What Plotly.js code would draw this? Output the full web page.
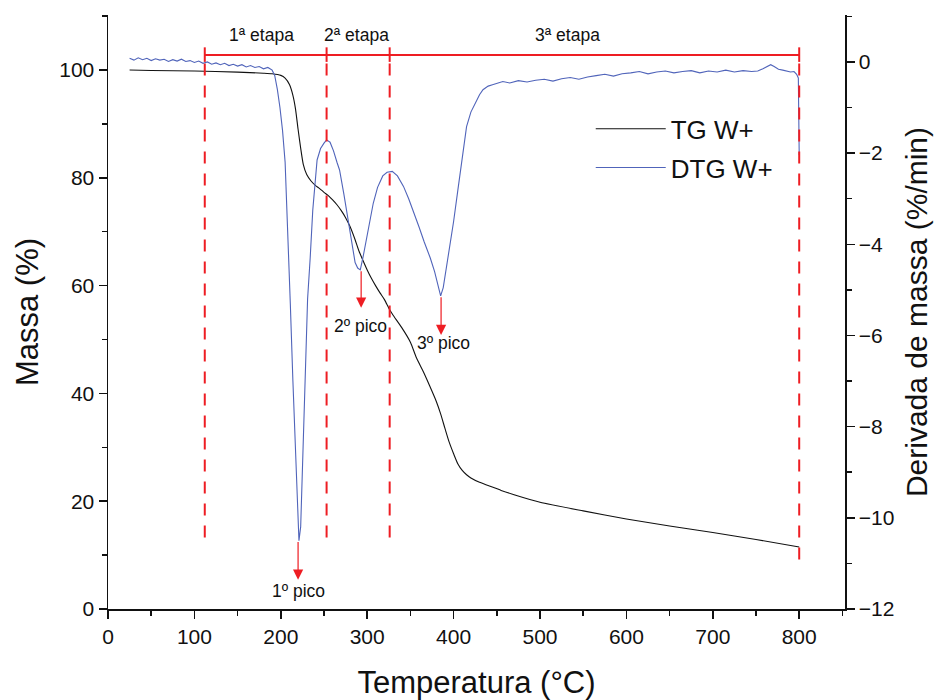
<!DOCTYPE html>
<html>
<head>
<meta charset="utf-8">
<script src="https://cdn.plot.ly/plotly-3.0.1.min.js"></script>
<style>html,body{margin:0;padding:0;background:#fff;}#chart{width:939px;height:700px;}</style>
</head>
<body>
<div id="chart"></div>
<script>
// TG curve (mass %)
var tgTemp = [25,50,100,150,180,190,200,205,210,214,217,220,223,226,230,235,240,245,250,255,
  260,265,270,275,280,286,290,295,300,305,310,315,320,326,330,340,350,357,365,372,
  380,385,390,395,400,405,410,415,420,430,440,455,470,500,550,600,650,700,750,800];
var tgMass = [100,99.9,99.8,99.6,99.4,99.3,99.0,98.5,97.3,95.3,92.8,89.0,85.5,82.5,80.6,79.4,78.6,78.0,77.3,76.7,
  75.9,75.0,73.9,72.6,71.0,68.5,66.6,64.7,62.9,61.3,59.9,58.6,57.4,55.5,54.5,52.2,49.5,46.6,44.0,41.5,
  38.5,36.2,33.5,30.9,28.8,26.9,25.7,24.9,24.3,23.5,22.9,22.0,21.2,19.8,18.2,16.7,15.4,14.2,12.9,11.5];

// DTG curve (%/min)
var dtgTemp = [25,30,35,40,45,50,55,60,65,70,
  75,80,85,90,95,100,105,110,115,120,
  125,130,135,140,145,150,155,160,165,170,
  175,180,185,190,193,196,199,202,205,208,
  211,214,217,219,221,223,225,227,229,231,
  234,237,242,246,250,253,257,261,265,268,
  273,278,282,286,289,292,295,299,303,307,
  312,318,323,329,335,342,348,353,360,366,
  373,378,381,385,388,391,394,397,400,405,
  410,415,420,425,430,434,440,445,450,457,
  465,475,485,495,505,515,525,535,545,555,
  565,575,585,595,605,615,625,635,645,655,
  665,675,685,695,705,715,725,735,745,752,
  758,763,767,771,776,781,786,790,794,797,
  799,800];
var dtgValue = [0.08,0.04,0.09,0.05,0.08,0.03,0.07,0.04,0.06,0.01,
  0.05,0.02,0.06,0.01,0.03,-0.01,0.02,-0.03,0.0,-0.05,
  -0.02,-0.06,-0.03,-0.08,-0.05,-0.09,-0.06,-0.11,-0.08,-0.12,
  -0.1,-0.15,-0.12,-0.18,-0.3,-0.6,-1.0,-1.5,-2.2,-3.6,
  -5.3,-7.0,-8.7,-9.8,-10.5,-10.2,-9.0,-7.6,-6.2,-5.2,
  -4.3,-3.25,-2.15,-1.9,-1.78,-1.71,-1.76,-1.95,-2.2,-2.37,
  -2.9,-3.46,-3.95,-4.4,-4.52,-4.56,-4.3,-3.9,-3.45,-3.1,
  -2.75,-2.5,-2.42,-2.4,-2.5,-2.73,-3.0,-3.25,-3.62,-3.95,
  -4.3,-4.6,-4.82,-5.13,-4.95,-4.6,-4.25,-3.9,-3.5,-2.8,
  -2.1,-1.42,-1.1,-0.9,-0.72,-0.61,-0.53,-0.5,-0.47,-0.43,
  -0.46,-0.41,-0.44,-0.4,-0.38,-0.42,-0.37,-0.34,-0.38,-0.33,
  -0.3,-0.27,-0.31,-0.26,-0.24,-0.21,-0.26,-0.22,-0.2,-0.24,
  -0.21,-0.19,-0.24,-0.2,-0.22,-0.18,-0.22,-0.19,-0.21,-0.2,
  -0.15,-0.1,-0.06,-0.1,-0.16,-0.18,-0.2,-0.22,-0.21,-0.27,
  -0.35,-2.04];

// Stage boundaries (°C) and labels
var stageBounds = [112, 253, 326, 800];
var stageLabels = ["1ª etapa", "2ª etapa", "3ª etapa"];
var stageLabelTemp = [178, 288, 532];

// Peaks: temperature, DTG value at peak, arrow tip, label position
var peakLabels = ["1º pico", "2º pico", "3º pico"];
var peakTemp = [220, 293, 385.5];
var peakValue = [-10.5, -4.56, -5.13];
var peakArrowTip = [-11.36, -5.39, -5.99];
var peakLabelTemp = [220, 292, 388];
var peakLabelValue = [-11.6, -5.8, -6.17];

var RED = "#ee1d23";
var FONT = "Arial, 'Liberation Sans', sans-serif";

var traces = [
  {x: tgTemp, y: tgMass, type: "scatter", mode: "lines", name: "TG W+",
   line: {color: "#111111", width: 1.1, shape: "spline", smoothing: 0.6}, legendgroup: "a"},
  {x: dtgTemp, y: dtgValue, type: "scatter", mode: "lines", name: "DTG W+", yaxis: "y2",
   line: {color: "#5064ba", width: 1.1}, legendgroup: "b"}
];

var shapes = [];
shapes.push({type: "line", xref: "x", yref: "y", x0: stageBounds[0], x1: stageBounds[3], y0: 102.8, y1: 102.8,
  line: {color: RED, width: 2}});
stageBounds.forEach(function (b, i) {
  shapes.push({type: "line", xref: "x", yref: "y", x0: b, x1: b, y0: 101.5, y1: 104.2,
    line: {color: RED, width: 2}});
  shapes.push({type: "line", xref: "x", yref: "y", x0: b, x1: b, y0: 101.2, y1: (i === 3 ? 8.5 : 12.4),
    line: {color: RED, width: 2, dash: "12px,10px"}});
});

var annotations = [];
stageLabels.forEach(function (t, i) {
  annotations.push({xref: "x", yref: "y", x: stageLabelTemp[i], y: 106.5, text: t, showarrow: false,
    font: {family: FONT, size: 17.5, color: "#111"}});
});
peakLabels.forEach(function (t, i) {
  annotations.push({xref: "x", yref: "y2", x: peakTemp[i], y: peakArrowTip[i], ax: peakTemp[i], ay: peakValue[i],
    axref: "x", ayref: "y2", text: "", showarrow: true, arrowhead: 2, arrowsize: 1.7, arrowwidth: 1.2,
    arrowcolor: RED, standoff: 0, startstandoff: 0});
  annotations.push({xref: "x", yref: "y2", x: peakLabelTemp[i], y: peakLabelValue[i], text: t, showarrow: false,
    font: {family: FONT, size: 17.5, color: "#111"}});
});

var layout = {
  width: 939, height: 700,
  margin: {l: 108, r: 94, t: 15, b: 91},
  paper_bgcolor: "#fff", plot_bgcolor: "#fff",
  font: {family: FONT, color: "#111"},
  showlegend: true,
  legend: {x: 0.655, y: 0.848, xanchor: "left", yanchor: "top", bgcolor: "rgba(0,0,0,0)",
    font: {family: FONT, size: 26, color: "#111"}, itemwidth: 70, traceorder: "grouped", tracegroupgap: 2},
  xaxis: {range: [0, 853], showgrid: false, zeroline: false, showline: true, linecolor: "#111", linewidth: 1.5,
    ticks: "outside", ticklen: 8, tickwidth: 1.5, tickcolor: "#111", dtick: 100, tick0: 0,
    minor: {dtick: 50, ticks: "outside", ticklen: 5, tickwidth: 1.5, tickcolor: "#111"},
    tickfont: {family: FONT, size: 21, color: "#111"},
    title: {text: "Temperatura (°C)", font: {family: FONT, size: 31, color: "#111"}, standoff: 25}},
  yaxis: {range: [0, 110.2], showgrid: false, zeroline: false, showline: true, linecolor: "#111", linewidth: 1.5,
    ticks: "outside", ticklen: 8, tickwidth: 1.5, tickcolor: "#111", dtick: 20, tick0: 0,
    minor: {dtick: 10, ticks: "outside", ticklen: 5, tickwidth: 1.5, tickcolor: "#111"},
    tickfont: {family: FONT, size: 21, color: "#111"},
    title: {text: "Massa (%)", font: {family: FONT, size: 31, color: "#111"}, standoff: 11}},
  yaxis2: {range: [-12, 1.03], overlaying: "y", side: "right", showgrid: false, zeroline: false, showline: true,
    linecolor: "#111", linewidth: 1.5, ticks: "outside", ticklen: 8, tickwidth: 1.5, tickcolor: "#111",
    dtick: 2, tick0: 0,
    minor: {dtick: 1, ticks: "outside", ticklen: 5, tickwidth: 1.5, tickcolor: "#111"},
    tickfont: {family: FONT, size: 21, color: "#111"},
    title: {text: "Derivada de massa (%/min)", font: {family: FONT, size: 30, color: "#111"}, standoff: 12}},
  shapes: shapes,
  annotations: annotations
};

Plotly.newPlot("chart", traces, layout, {displayModeBar: false, staticPlot: true});
</script>
</body>
</html>
